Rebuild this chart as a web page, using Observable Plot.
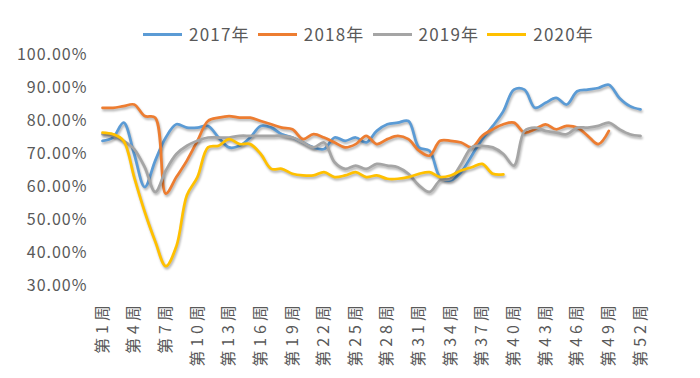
<!DOCTYPE html>
<html>
<head>
<meta charset="utf-8">
<script src="https://cdn.jsdelivr.net/npm/d3@7"></script>
<script src="https://cdn.jsdelivr.net/npm/@observablehq/plot@0.6"></script>
<style>
  html, body { margin: 0; padding: 0; background: #fff; }
  body { width: 700px; height: 378px; overflow: hidden; position: relative; font-family: "Noto Sans CJK SC", "Noto Sans", sans-serif; }
  #legend { position: absolute; top: 24px; left: 143px; display: flex; align-items: center; z-index: 1; }
  #chart { padding-top: 34px; }
  .item { display: flex; align-items: center; height: 20px; margin-right: 8px; }
  .swatch { width: 39px; height: 3px; margin-right: 7px; }
  .label { font-size: 17px; color: #595959; letter-spacing: 1.2px; line-height: 20px; }
  svg { overflow: visible; }
  g[aria-label="x-axis tick label"] text { letter-spacing: 4px; font-size: 16px; }
  g[aria-label="y-axis tick label"] text { letter-spacing: 1px; }
  g[aria-label="line"] path { filter: drop-shadow(1.5px 2px 1.2px rgba(0,0,0,0.3)); }
</style>
</head>
<body>
<div id="legend"></div>
<div id="chart"></div>
<script>
// ---- data (percent values per week) ----
const years = ["2017年", "2018年", "2019年", "2020年"];
const colors = ["#5B9BD5", "#ED7D31", "#A5A5A5", "#FFC000"];
const xTicks = [1, 4, 7, 10, 13, 16, 19, 22, 25, 28, 31, 34, 37, 40, 43, 46, 49, 52];
const yTicks = [0.3, 0.4, 0.5, 0.6, 0.7, 0.8, 0.9, 1.0];

const v2017 = [74, 75, 79.5, 70, 60, 68, 75, 79, 78, 78, 78.5, 75, 72, 72.5, 75, 78.5, 78, 76, 75, 73.5,
  72, 71.5, 75, 74, 75, 73.5, 77, 79, 79.5, 80, 72, 71, 63, 62, 64.5, 69.5, 74.5, 78.5, 83, 89.5,
  89.5, 84, 85.5, 87, 85, 89, 89.5, 90, 91, 87, 84.5, 83.5];
const v2018 = [84, 84, 84.5, 85, 81.5, 81, 58, 63, 68, 74, 80, 81, 81.5, 81, 81, 80, 79, 78, 77.5, 74.5,
  76, 75, 73.5, 72, 73, 75.5, 73, 74.5, 75.5, 74.5, 71, 69.5, 74, 74, 73.5, 72, 75.5, 77.5, 79, 79.5,
  76.5, 77.5, 79, 77.5, 78.5, 78, 75.5, 73, 77];
const v2019 = [76, 75.5, 74, 71.5, 66, 58.5, 65, 70, 72.5, 74, 75, 75, 75, 75.5, 75.5, 75.5, 75.5, 75.5, 75, 73.5,
  72, 73.5, 67.5, 65.5, 66.5, 65.5, 67, 66.5, 66, 64, 60.5, 58.5, 62, 62.5, 67, 72, 72.5, 72, 70, 66.5,
  77, 78, 77, 76.5, 76, 78, 78, 78.5, 79.5, 77.5, 76, 75.5];
const v2020 = [76.5, 76, 74, 63, 52.5, 43.5, 36, 42, 57.5, 63, 72, 72.5, 74.5, 73, 73, 70, 65.5, 65.5, 64, 63.5,
  63.5, 64.5, 63, 63.5, 64.5, 63, 63.5, 62.5, 62.5, 63, 64, 64.5, 63, 63.5, 65, 66, 67, 64, 63.8];

const series = [v2017, v2018, v2019, v2020];
const rows = series.flatMap((vals, k) => vals.map((v, i) => ({week: i + 1, value: v / 100, year: years[k]})));

// ---- legend ----
const legend = document.getElementById("legend");
years.forEach((y, k) => {
  const item = document.createElement("div");
  item.className = "item";
  const sw = document.createElement("div");
  sw.className = "swatch";
  sw.style.background = colors[k];
  const lb = document.createElement("span");
  lb.className = "label";
  lb.textContent = y;
  item.appendChild(sw);
  item.appendChild(lb);
  legend.appendChild(item);
});

// ---- chart ----
const chart = Plot.plot({
  width: 700,
  height: 344,
  marginLeft: 102,
  marginRight: 60,
  marginTop: 20.5,
  marginBottom: 92.5,
  style: {fontFamily: '"Noto Sans CJK SC", "Noto Sans", sans-serif', fontSize: "16px", color: "#595959", background: "#fff", overflow: "visible"},
  x: {domain: [1, 52]},
  y: {domain: [0.3, 1.0]},
  color: {domain: years, range: colors},
  marks: [
    Plot.axisY({ticks: yTicks, tickFormat: d3.format(".2%"), tickSize: 0, tickPadding: 15, label: null}),
    Plot.axisX({ticks: xTicks, tickFormat: d => `第${d}周`, tickRotate: -90, tickSize: 0, tickPadding: 15, label: null}),
    Plot.line(rows, {x: "week", y: "value", stroke: "year", z: "year", curve: "catmull-rom", strokeWidth: 2.75})
  ]
});
document.getElementById("chart").appendChild(chart);
</script>
</body>
</html>
